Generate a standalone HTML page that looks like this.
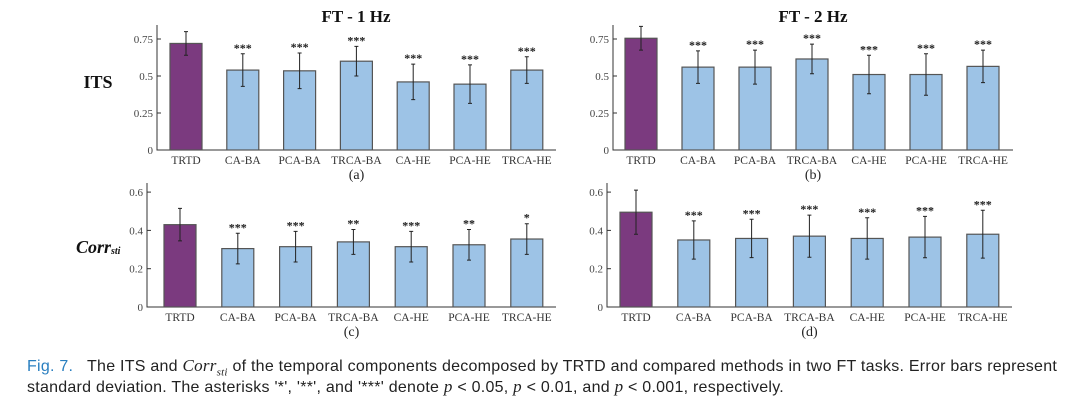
<!DOCTYPE html>
<html><head><meta charset="utf-8">
<style>
body{margin:0;background:#fff;width:1080px;height:402px;overflow:hidden;position:relative;font-family:"Liberation Serif",serif}
svg{position:absolute;left:0;top:0}
.cap{position:absolute;left:27px;font-family:"Liberation Sans",sans-serif;font-size:16px;letter-spacing:0.25px;color:#222;white-space:nowrap}
</style></head><body>
<svg id="c" width="1080" height="402"></svg>
<div class="cap" style="top:356px"><span style="color:#2a7fc0">Fig. 7.</span>&nbsp;&nbsp; The ITS and <i style="font-family:'Liberation Serif',serif;font-size:17px">Corr<sub style="font-size:11px">sti</sub></i> of the temporal components decomposed by TRTD and compared methods in two FT tasks. Error bars represent</div>
<div class="cap" style="top:377px">standard deviation. The asterisks '*', '**', and '***' denote <i style="font-family:'Liberation Serif',serif;font-size:17px">p</i> &lt; 0.05, <i style="font-family:'Liberation Serif',serif;font-size:17px">p</i> &lt; 0.01, and <i style="font-family:'Liberation Serif',serif;font-size:17px">p</i> &lt; 0.001, respectively.</div>
<script>
const categories=["TRTD","CA-BA","PCA-BA","TRCA-BA","CA-HE","PCA-HE","TRCA-HE"];
const itsA=[0.72,0.54,0.535,0.60,0.46,0.445,0.54];
const itsAErr=[0.08,0.11,0.12,0.10,0.12,0.13,0.09];
const itsAStars=["","***","***","***","***","***","***"];
const itsB=[0.755,0.56,0.56,0.615,0.51,0.51,0.565];
const itsBErr=[0.08,0.11,0.115,0.10,0.13,0.14,0.11];
const itsBStars=["","***","***","***","***","***","***"];
const corrC=[0.43,0.305,0.315,0.34,0.315,0.325,0.355];
const corrCErr=[0.085,0.08,0.08,0.065,0.08,0.08,0.08];
const corrCStars=["","***","***","**","***","**","*"];
const corrD=[0.495,0.35,0.358,0.37,0.358,0.365,0.38];
const corrDErr=[0.115,0.10,0.10,0.11,0.108,0.108,0.125];
const corrDStars=["","***","***","***","***","***","***"];
const itsTicks=[0,0.25,0.5,0.75];
const itsTickLabels=["0","0.25","0.5","0.75"];
const corrTicks=[0,0.2,0.4,0.6];
const corrTickLabels=["0","0.2","0.4","0.6"];

const svg=document.getElementById('c');
const NS='http://www.w3.org/2000/svg';
function mk(tag,attrs,parent){const e=document.createElementNS(NS,tag);for(const k in attrs)e.setAttribute(k,attrs[k]);(parent||svg).appendChild(e);return e;}

function panel(id,p){
  const g=mk('g',{});
  
  
  const y=v=>p.base-(v/p.unit)*p.unitPx;
  const x=i=>p.c0+i*p.step;
  const ax=mk('path',{d:`M${p.x0},${p.top}V${p.base}H${p.x1}`,stroke:'#333',fill:'none','stroke-width':1},g);
  
  
  p.ticks.forEach((t,i)=>{
    mk('line',{x1:p.x0,x2:p.x0+4,y1:y(t),y2:y(t),stroke:'#333'},g);
    const tl=mk('text',{x:p.x0-4,y:y(t)+4,'text-anchor':'end','font-size':11,fill:'#444'},g);
    tl.textContent=p.tickLabels[i];
    
    
  });
  categories.forEach((c,i)=>{
    const v=p.vals[i],e=p.errs[i],cx=x(i),w=32;
    const b=mk('rect',{x:cx-w/2,y:y(v),width:w,height:p.base-y(v),fill:i==0?'#7b3a7f':'#9dc3e6',stroke:'#555','stroke-width':1.2},g);
    
    
    const eb=mk('path',{d:`M${cx},${y(v+e)}V${y(v-e)}M${cx-2},${y(v+e)}H${cx+2}M${cx-2},${y(v-e)}H${cx+2}`,stroke:'#222','stroke-width':1,fill:'none'},g);
    
    
    if(p.stars[i]){
      const s=mk('text',{x:cx,y:y(v+e)-2,'text-anchor':'middle','font-size':12,'font-weight':'bold',fill:'#222'},g);
      s.textContent=p.stars[i];
      
      
    }
    const l=mk('text',{x:cx,y:p.base+14,'text-anchor':'middle','font-size':11.5,fill:'#333'},g);
    l.textContent=c;
    
    
  });
  const sl=mk('text',{x:(p.x0+p.x1)/2,y:p.base+29,'text-anchor':'middle','font-size':14,fill:'#222'},g);
  sl.textContent=p.label;
  
  
}
panel('a',{x0:157,x1:556,top:25,base:150,unit:0.25,unitPx:37,c0:186,step:56.8,ticks:itsTicks,tickLabels:itsTickLabels,vals:itsA,errs:itsAErr,stars:itsAStars,label:'(a)'});
panel('b',{x0:613,x1:1013,top:25,base:150,unit:0.25,unitPx:37,c0:641,step:57,ticks:itsTicks,tickLabels:itsTickLabels,vals:itsB,errs:itsBErr,stars:itsBStars,label:'(b)'});
panel('c',{x0:147,x1:556,top:183,base:307,unit:0.2,unitPx:38.3,c0:180,step:57.8,ticks:corrTicks,tickLabels:corrTickLabels,vals:corrC,errs:corrCErr,stars:corrCStars,label:'(c)'});
panel('d',{x0:607,x1:1012,top:183,base:307,unit:0.2,unitPx:38.3,c0:636,step:57.8,ticks:corrTicks,tickLabels:corrTickLabels,vals:corrD,errs:corrDErr,stars:corrDStars,label:'(d)'});

const t1=mk('text',{x:356,y:22,'text-anchor':'middle','font-size':17,'font-weight':'bold',fill:'#111'});
t1.textContent='FT - 1 Hz';


const t2=mk('text',{x:813,y:22,'text-anchor':'middle','font-size':17,'font-weight':'bold',fill:'#111'});
t2.textContent='FT - 2 Hz';


const r1=mk('text',{x:98,y:88,'text-anchor':'middle','font-size':18,'font-weight':'bold',fill:'#111'});
r1.textContent='ITS';


const r2=mk('text',{x:76,y:253,'font-size':18,'font-weight':'bold','font-style':'italic',fill:'#111'});
r2.innerHTML='Corr<tspan font-size="10" dy="1">sti</tspan>';


</script>
</body></html>
